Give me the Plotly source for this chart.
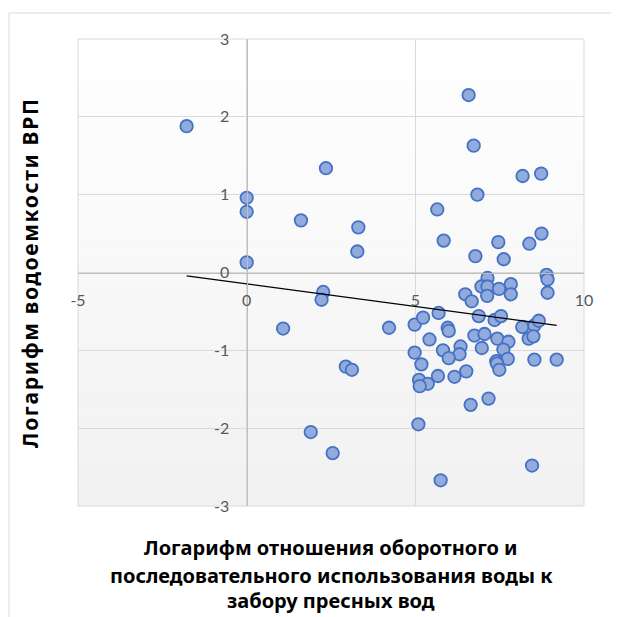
import numpy as np
import plotly.graph_objects as go

# Data
x_vals = [-1.78, 0.00, 0.00, 0.00, 2.35, 1.61, 3.31, 3.28, 2.27, 2.22, 1.08, 4.22, 2.94, 3.12, 1.90, 2.55,
          6.58, 6.73, 8.18, 8.73, 6.84, 5.65, 5.84, 7.46, 8.38, 8.74, 6.78, 7.62,
          7.14, 8.89, 8.92, 7.83, 6.96, 7.14, 7.48, 6.48, 6.67, 7.13, 7.83, 8.92,
          4.98, 5.23, 5.69, 5.96, 5.99, 5.42, 6.88, 7.35, 7.54, 6.75, 7.05, 7.43, 7.76, 8.17, 8.53, 8.66, 8.36, 8.50,
          4.98, 5.82, 6.34, 6.31, 5.99, 5.18, 6.97, 7.61, 7.74, 7.40, 7.42, 7.49, 8.53, 9.19, 5.67, 6.16, 6.51, 5.11, 5.37, 5.13,
          6.64, 7.17, 5.09, 8.46, 5.75]
y_vals = [1.88, 0.96, 0.78, 0.13, 1.34, 0.67, 0.58, 0.27, -0.25, -0.35, -0.72, -0.71, -1.21, -1.25, -2.05, -2.32,
          2.28, 1.63, 1.24, 1.27, 1.00, 0.81, 0.41, 0.39, 0.37, 0.50, 0.21, 0.17,
          -0.07, -0.03, -0.09, -0.15, -0.18, -0.18, -0.21, -0.28, -0.37, -0.30, -0.28, -0.26,
          -0.67, -0.58, -0.52, -0.71, -0.75, -0.86, -0.56, -0.61, -0.56, -0.81, -0.79, -0.85, -0.89, -0.70, -0.68, -0.62, -0.85, -0.82,
          -1.03, -1.00, -0.95, -1.05, -1.10, -1.18, -0.97, -0.99, -1.11, -1.14, -1.17, -1.25, -1.12, -1.12, -1.33, -1.34, -1.27, -1.38, -1.43, -1.46,
          -1.70, -1.62, -1.95, -2.48, -2.67]

x_ticks = [-5, 0, 5, 10]
y_ticks = [-3, -2, -1, 0, 1, 2, 3]
x_title_lines = ["Логарифм отношения оборотного и",
                 "последовательного использования воды к",
                 "забору пресных вод"]
y_title = "Логарифм водоемкости ВРП"

# Linear trend line (least squares) over the data range
slope, intercept = np.polyfit(x_vals, y_vals, 1)
tx = np.array([min(x_vals), max(x_vals)])
ty = slope * tx + intercept

fig = go.Figure()
fig.add_trace(go.Scatter(
    x=x_vals, y=y_vals, mode="markers",
    marker=dict(size=12.5, color="#93AADC", line=dict(color="#4472C4", width=1.8)),
    hoverinfo="x+y", showlegend=False))
fig.add_trace(go.Scatter(
    x=tx, y=ty, mode="lines", line=dict(color="black", width=1.2),
    hoverinfo="skip", showlegend=False))

# gradient plot background (white -> light grey)
shapes = []
n = 40
for i in range(n):
    t = (i + 0.5) / n  # 0 bottom -> 1 top
    v = int(round(241 + (255 - 241) * t))
    shapes.append(dict(type="rect", xref="paper", yref="paper", x0=0, x1=1,
                       y0=i / n, y1=(i + 1) / n, fillcolor=f"rgb({v},{v},{v})",
                       line=dict(width=0), layer="below"))
# plot border (light grid colour)
shapes.append(dict(type="rect", xref="paper", yref="paper", x0=0, x1=1, y0=0, y1=1,
                   line=dict(color="#d9d9d9", width=1), layer="below"))
# chart area border
shapes.append(dict(type="rect", xref="paper", yref="paper",
                   x0=-0.1364, x1=1.09, y0=-0.27, y1=1.0557,
                   line=dict(color="#d9d9d9", width=1), fillcolor="rgba(0,0,0,0)", layer="below"))

tick_font = dict(family="Lato, Liberation Sans, sans-serif", size=16, color="#595959")
xt_font = dict(family="Noto Sans, Open Sans, sans-serif", size=20, color="black")
yt_font = dict(family="Noto Sans, Open Sans, sans-serif", size=21, color="black")

annotations = [dict(text="<b><span style='letter-spacing:1.7px'>" + y_title + "</span></b>",
                    x=-0.095, y=0.501, xref="paper", yref="paper",
                    textangle=-90, showarrow=False, font=yt_font,
                    xanchor="center", yanchor="middle")]
for line, yy in zip(x_title_lines, [-0.0899, -0.1478, -0.2013]):
    annotations.append(dict(text="<b>" + line + "</b>", x=0.5, y=yy, xref="paper", yref="paper",
                            showarrow=False, font=xt_font, xanchor="center", yanchor="middle"))

fig.update_layout(
    width=611, height=609,
    margin=dict(l=70, r=35, t=31, b=111),
    paper_bgcolor="white", plot_bgcolor="rgba(0,0,0,0)",
    shapes=shapes, annotations=annotations,
    xaxis=dict(range=[-5, 10], tickvals=x_ticks, ticktext=[str(v) for v in x_ticks],
               anchor="free", position=0.5, showgrid=True, gridcolor="#d9d9d9", gridwidth=1,
               zeroline=False, showline=True, linecolor="#bfbfbf", linewidth=1.3,
               ticks="", ticklabelstandoff=13, tickfont=tick_font, fixedrange=True),
    yaxis=dict(range=[-3, 3], tickvals=y_ticks, ticktext=[str(v) for v in y_ticks],
               anchor="free", position=1/3, showgrid=True, gridcolor="#d9d9d9", gridwidth=1,
               zeroline=False, showline=True, linecolor="#bfbfbf", linewidth=1.3,
               ticks="", ticklabelstandoff=14, tickfont=tick_font, fixedrange=True),
)

fig.write_html("out.html")
